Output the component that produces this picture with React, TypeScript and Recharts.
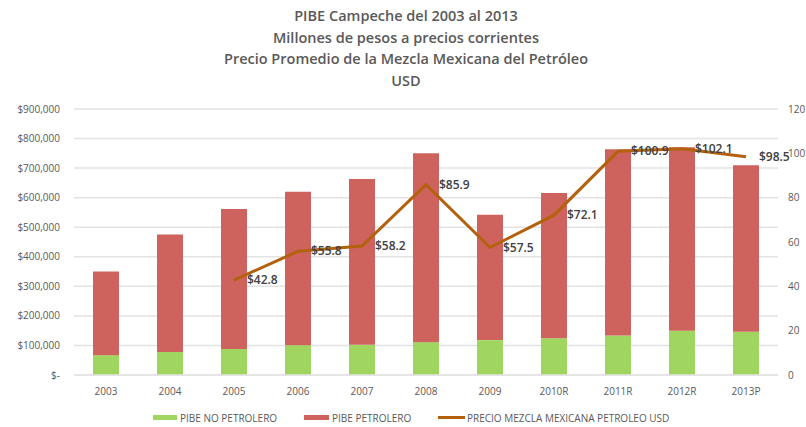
import React from 'react';
import { ComposedChart, Bar, Line, XAxis, YAxis, CartesianGrid, LabelList } from 'recharts';

const years = ['2003', '2004', '2005', '2006', '2007', '2008', '2009', '2010R', '2011R', '2012R', '2013P'];
const pibeNoPetrolero = [67000, 78000, 88000, 101000, 102000, 111000, 118000, 124000, 134000, 150000, 146000];
const pibePetrolero = [283000, 397000, 474000, 519000, 561000, 639000, 424000, 492000, 630000, 621000, 564000];
const precioMezcla: (number | null)[] = [null, null, 42.8, 55.8, 58.2, 85.9, 57.5, 72.1, 100.9, 102.1, 98.5];

const leftTicks = [0, 100000, 200000, 300000, 400000, 500000, 600000, 700000, 800000, 900000];
const rightTicks = [0, 20, 40, 60, 80, 100, 120];
const titleLines = [
  'PIBE Campeche del 2003 al 2013',
  'Millones de pesos a precios corrientes',
  'Precio Promedio de la Mezcla Mexicana del Petróleo',
  'USD',
];

const GREEN = '#A0D660';
const RED = '#CD635C';
const BROWN = '#B4610E';
const TEXT = '#595959';
const FONT = '"Open Sans", sans-serif';

const data = years.map((y, i) => ({
  year: y,
  noPet: pibeNoPetrolero[i],
  pet: pibePetrolero[i],
  precio: precioMezcla[i],
}));

const money = (v: number) => (v === 0 ? '$-   ' : '$' + v.toLocaleString('en-US'));

const PriceLabel = (props: any) => {
  const { x, y, value } = props;
  if (value == null) return null;
  return (
    <text x={x + 13} y={y + 4} fontSize={12} fontWeight={600} fill="#404040" fontFamily={FONT}>
      {'$' + Number(value).toFixed(1)}
    </text>
  );
};

const App = () => {
  return (
    <div style={{ position: 'absolute', left: 0, top: 0, width: 806, height: 427, background: '#fff' }}>
      <div style={{ position: 'absolute', left: 0, top: 5, width: 812, textAlign: 'center', fontFamily: FONT, fontWeight: 600, fontSize: 14.5, color: TEXT, lineHeight: '21.5px' }}>
        {titleLines.map((t) => <div key={t}>{t}</div>)}
      </div>
      <ComposedChart width={806} height={427} data={data} margin={{ top: 109, right: 0, bottom: 32, left: 0 }}>
        <CartesianGrid yAxisId="left" vertical={false} stroke="#E3E3E3" strokeWidth={1.5} />
        <XAxis dataKey="year" height={20} axisLine={{ stroke: '#E3E3E3', strokeWidth: 1.5 }} tickLine={false}
          tick={{ fontSize: 10, fill: TEXT, fontFamily: FONT }} tickSize={0} tickMargin={13} interval={0} />
        <YAxis yAxisId="left" width={74} domain={[0, 900000]} ticks={leftTicks} axisLine={false} tickLine={false}
          tickSize={0} tickMargin={14} tickFormatter={money} tick={{ fontSize: 10, fill: TEXT, fontFamily: FONT }} />
        <YAxis yAxisId="right" orientation="right" width={28} domain={[0, 120]} ticks={rightTicks} axisLine={false}
          tickLine={false} tickSize={0} tickMargin={10} tick={{ fontSize: 10, fill: TEXT, fontFamily: FONT, textAnchor: 'start' }} />
        <Bar yAxisId="left" dataKey="noPet" stackId="a" fill={GREEN} barSize={26} isAnimationActive={false} />
        <Bar yAxisId="left" dataKey="pet" stackId="a" fill={RED} barSize={26} isAnimationActive={false} />
        <Line yAxisId="right" dataKey="precio" stroke={BROWN} strokeWidth={3} dot={false} type="linear" isAnimationActive={false}>
          <LabelList dataKey="precio" content={PriceLabel} />
        </Line>
      </ComposedChart>
      <div style={{ position: 'absolute', top: 411, left: 0, width: 806, height: 14, fontFamily: FONT, fontSize: 10, color: TEXT }}>
        <div style={{ position: 'absolute', left: 153, top: 4, width: 24, height: 5, background: GREEN }} />
        <div style={{ position: 'absolute', left: 180, top: 0, lineHeight: '14px' }}>PIBE NO PETROLERO</div>
        <div style={{ position: 'absolute', left: 304, top: 4, width: 25, height: 5, background: RED }} />
        <div style={{ position: 'absolute', left: 332, top: 0, lineHeight: '14px' }}>PIBE PETROLERO</div>
        <div style={{ position: 'absolute', left: 438, top: 5, width: 27, height: 3, background: BROWN }} />
        <div style={{ position: 'absolute', left: 467, top: 0, lineHeight: '14px' }}>PRECIO MEZCLA MEXICANA PETROLEO USD</div>
      </div>
    </div>
  );
};

export default App;
